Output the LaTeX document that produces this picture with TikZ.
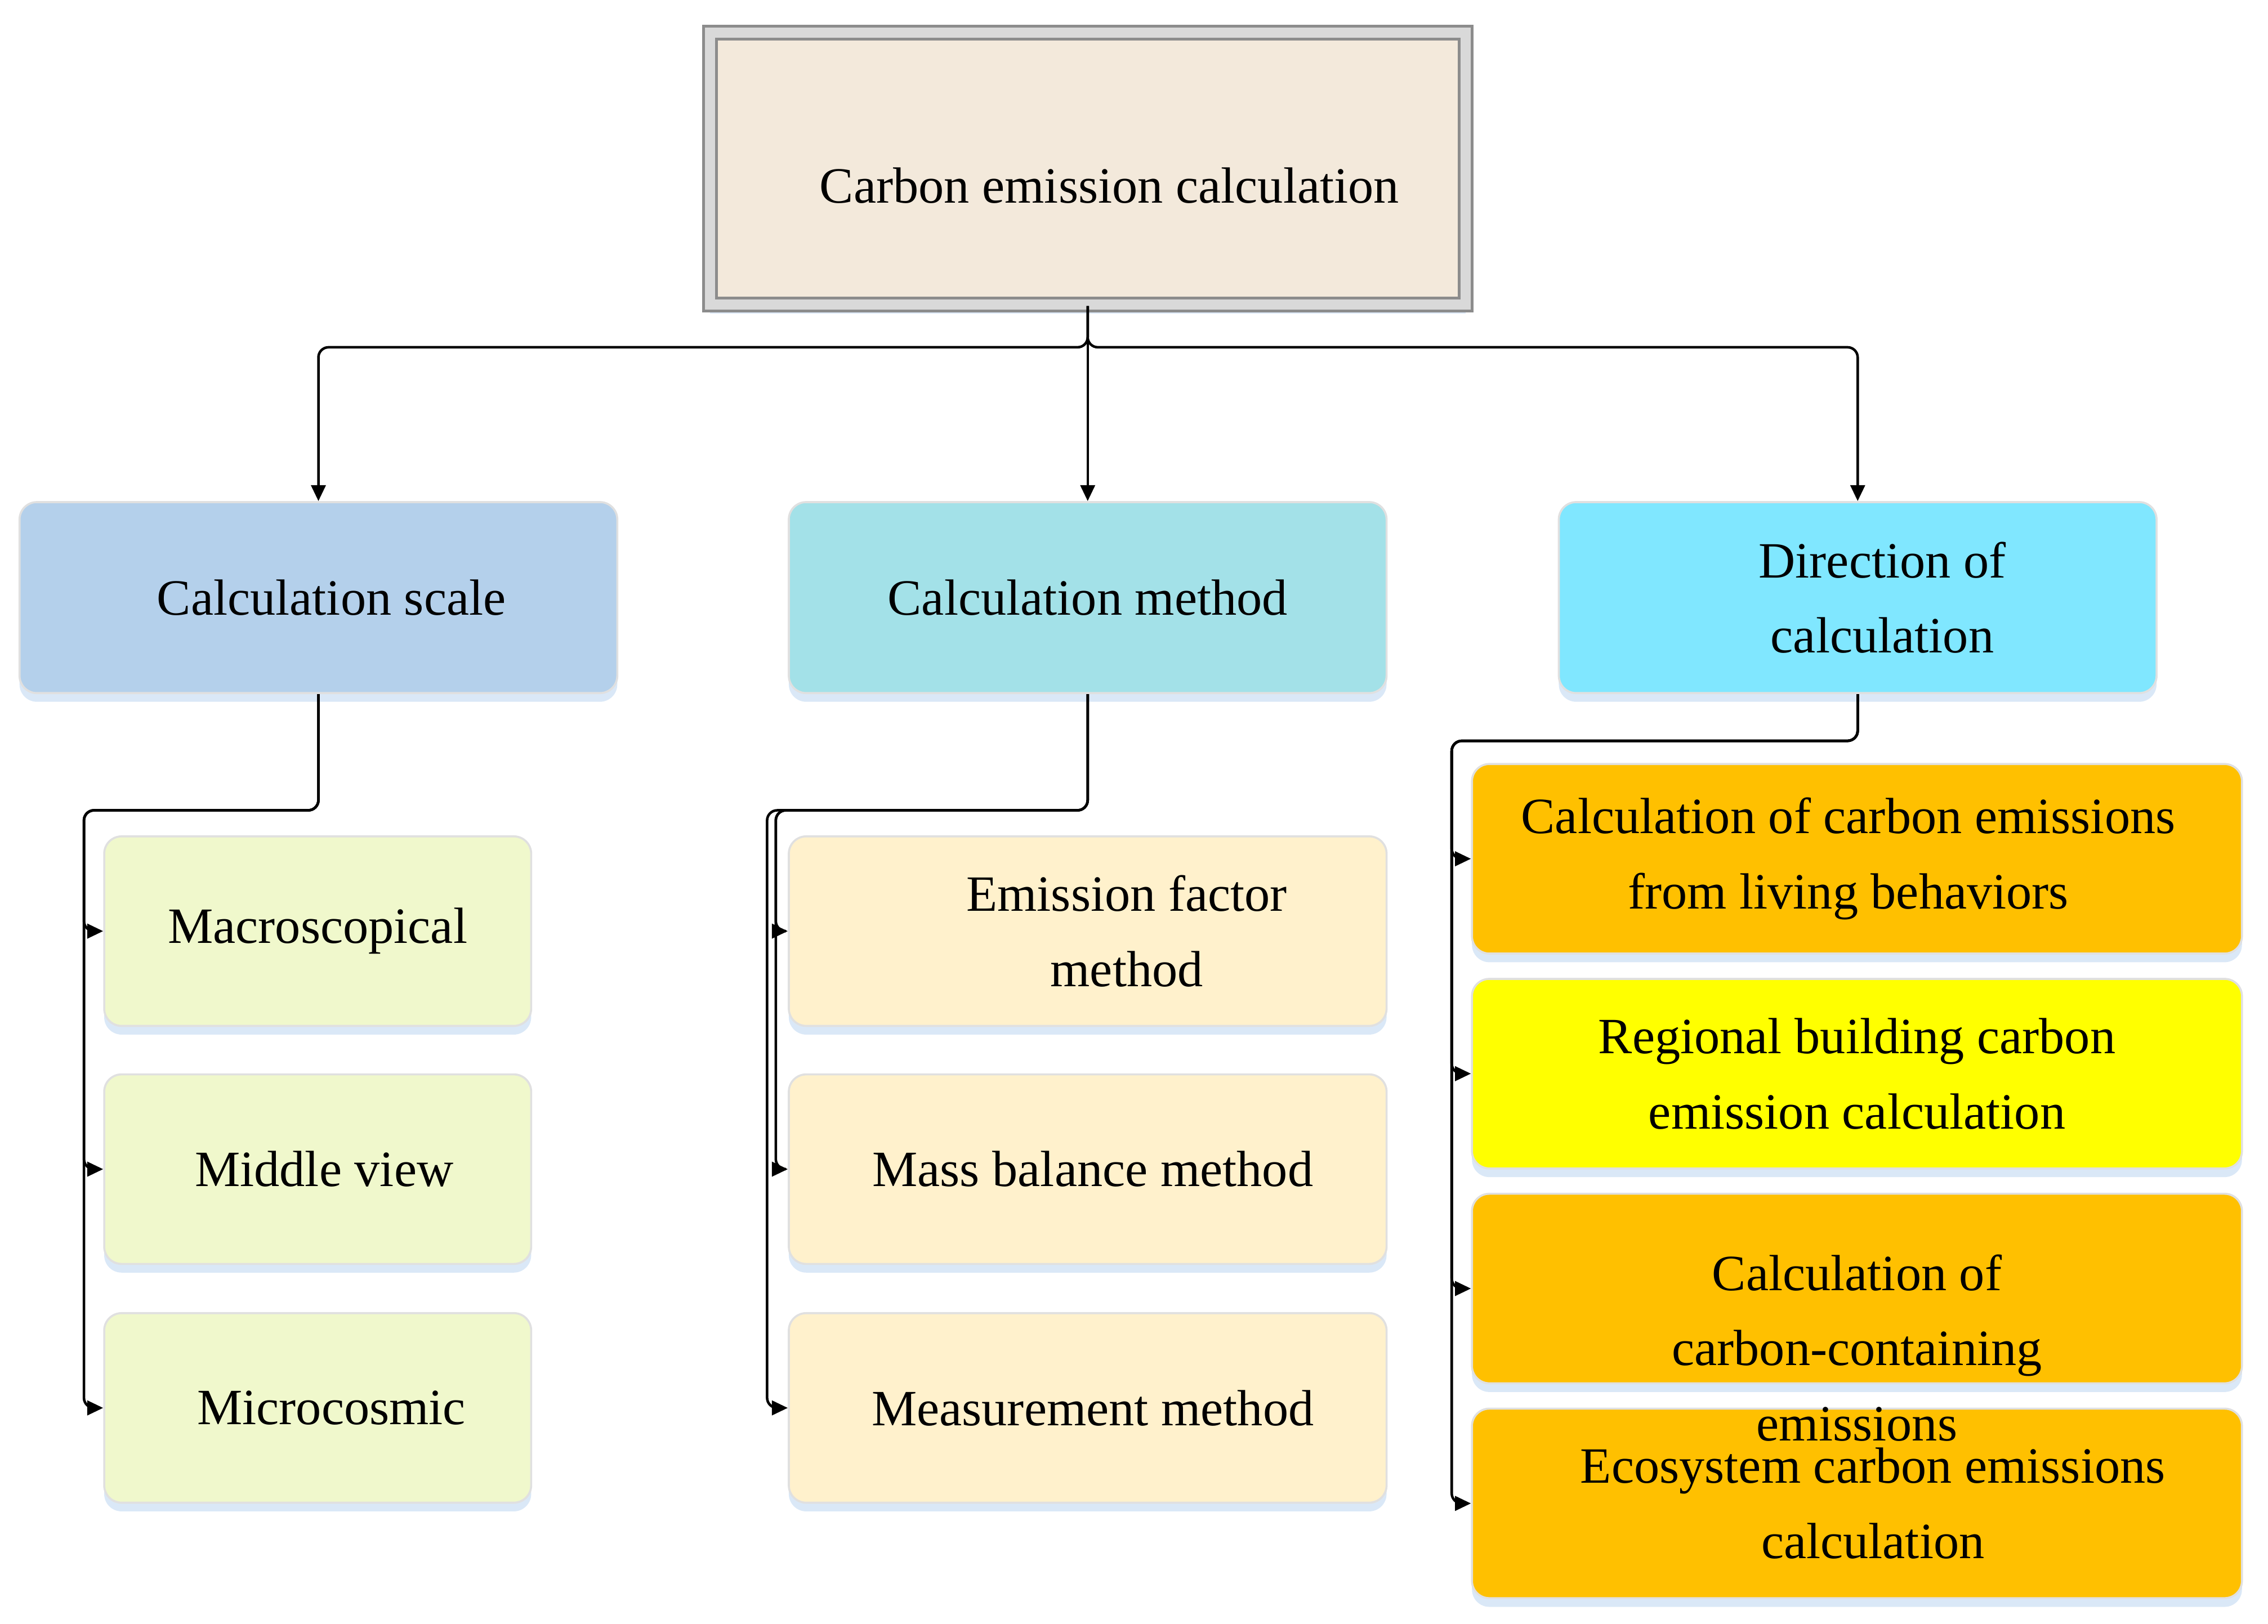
\documentclass[tikz,border=0pt]{standalone}
\usepackage{fontspec}
\setmainfont{Liberation Serif}
\usetikzlibrary{arrows.meta,shadows}
\definecolor{myrootcolor}{HTML}{F3E9DB}
\definecolor{myscalecolor}{HTML}{B4D0EB}
\definecolor{mymethodcolor}{HTML}{A3E1E8}
\definecolor{mydircolor}{HTML}{80E7FF}
\definecolor{mylimecolor}{HTML}{F0F8CC}
\definecolor{mycreamcolor}{HTML}{FFF1CC}
\definecolor{myorangecolor}{HTML}{FFC000}
\definecolor{myyellowcolor}{HTML}{FFFF00}
\definecolor{myshadowcolor}{HTML}{D6E6F6}

\tikzset{
  boxtext/.style={align=center, font=\fontsize{10pt}{14.8pt}\selectfont},
  softshadow/.style={drop shadow={shadow xshift=0cm, shadow yshift=-0.06cm, fill=myshadowcolor, opacity=0.9}},
  rootbox/.style={boxtext, rectangle, draw=black!45, double=black!15, double distance=0.07cm, line width=0.02cm, fill=myrootcolor, minimum width=5.22cm, minimum height=1.88cm, softshadow},
  groupbox/.style={boxtext, rectangle, rounded corners=0.12cm, draw=black!12, minimum width=4.13cm, minimum height=1.32cm, softshadow},
  leafbox/.style={groupbox, minimum height=1.31cm},
  link/.style={line width=0.5pt, rounded corners=0.07cm, -{Triangle[length=0.11cm, width=0.1cm]}},
}

\begin{document}
\begin{tikzpicture}%
\useasboundingbox (0, 0) rectangle (15.67, -11.223);%
% top
\node[rootbox, text height=13.6pt, text depth=0pt] (carbon) at (7.515, -1.165) {\hspace*{0.3cm}Carbon emission calculation};%
% groups
\node[groupbox, fill=myscalecolor] (calcscale) at (2.20, -4.13) {\hspace*{0.18cm}Calculation scale};%
\node[groupbox, fill=mymethodcolor] (calcmethod) at (7.515, -4.13) {Calculation method};%
\node[groupbox, fill=mydircolor] (calcdir) at (12.835, -4.13) {\hspace*{0.34cm}Direction of\\\hspace*{0.34cm}calculation};%
% scale leaves
\node[leafbox, fill=mylimecolor, minimum width=2.95cm] (macro) at (2.195, -6.435) {Macroscopical};%
\node[leafbox, fill=mylimecolor, minimum width=2.95cm] (middle) at (2.195, -8.08) {\hspace*{0.09cm}Middle view};%
\node[leafbox, fill=mylimecolor, minimum width=2.95cm] (micro) at (2.195, -9.73) {\hspace*{0.19cm}Microcosmic};%
% method leaves
\node[leafbox, fill=mycreamcolor] (emfactor) at (7.515, -6.435) {\hspace*{0.54cm}Emission factor\\\hspace*{0.54cm}method};%
\node[leafbox, fill=mycreamcolor] (massbal) at (7.515, -8.08) {\hspace*{0.07cm}Mass balance method};%
\node[leafbox, fill=mycreamcolor] (measure) at (7.515, -9.73) {\hspace*{0.07cm}Measurement method};%
% direction leaves
\node[leafbox, fill=myorangecolor, minimum width=5.32cm] (living) at (12.83, -5.935) {Calculation of carbon emissions\hspace*{0.12cm}\\from living behaviors\hspace*{0.12cm}};%
\node[leafbox, fill=myyellowcolor, minimum width=5.32cm] (building) at (12.83, -7.42) {Regional building carbon\\emission calculation};%
\node[leafbox, fill=myorangecolor, minimum width=5.32cm] (containing) at (12.83, -8.905) {};%
\node[leafbox, fill=myorangecolor, minimum width=5.32cm] (ecosystem) at (12.83, -10.39) {\hspace*{0.22cm}Ecosystem carbon emissions\\\hspace*{0.22cm}calculation};%
\node[boxtext] (containingtext) at (12.83, -9.315) {Calculation of\\carbon-containing\\emissions};%
% bus from the top box
\coordinate (busmid) at (7.515, -2.40);%
\draw[link] (carbon.south) -- (busmid) -| (calcscale.north);%
\draw[link] (carbon.south) -- (calcmethod.north);%
\draw[link] (carbon.south) -- (busmid) -| (calcdir.north);%
% scale branch
\coordinate (scalebend) at (0.58, -5.60);%
\draw[link] (calcscale.south) |- (scalebend) |- (macro.west);%
\draw[link] (calcscale.south) |- (scalebend) |- (middle.west);%
\draw[link] (calcscale.south) |- (scalebend) |- (micro.west);%
% method branch
\coordinate (methodbend) at (5.36, -5.60);%
\coordinate (methodouter) at (5.30, -5.60);%
\draw[link] (calcmethod.south) |- (methodbend) |- (emfactor.west);%
\draw[link] (calcmethod.south) |- (methodbend) |- (massbal.west);%
\draw[link] (calcmethod.south) |- (methodouter) |- (measure.west);%
% direction branch
\coordinate (dirbend) at (10.03, -5.12);%
\draw[link] (calcdir.south) |- (dirbend) |- (living.west);%
\draw[link] (calcdir.south) |- (dirbend) |- (building.west);%
\draw[link] (calcdir.south) |- (dirbend) |- (containing.west);%
\draw[link] (calcdir.south) |- (dirbend) |- (ecosystem.west);%
\end{tikzpicture}
\end{document}
